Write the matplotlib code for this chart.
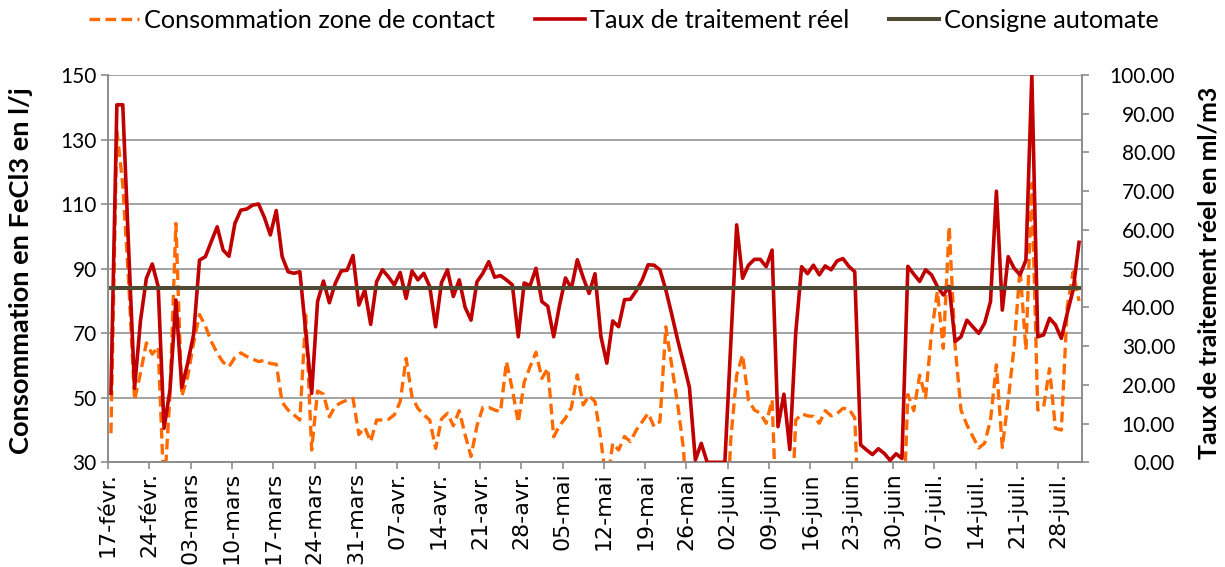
import matplotlib
matplotlib.use("Agg")
import matplotlib.pyplot as plt
import numpy as np

# ---- data (one value per day, from 17-févr. to 31-juil.) ----
tick_labels = ["17-févr.", "24-févr.", "03-mars", "10-mars", "17-mars", "24-mars",
               "31-mars", "07-avr.", "14-avr.", "21-avr.", "28-avr.", "05-mai",
               "12-mai", "19-mai", "26-mai", "02-juin", "09-juin", "16-juin",
               "23-juin", "30-juin", "07-juil.", "14-juil.", "21-juil.", "28-juil."]

consommation = [
    39, 133, 116, 86, 49.3, 57.6, 67, 63.5, 65.8, 20,
    51, 104, 50.5, 56.5, 67, 75.8, 72.2, 67.4, 63.8, 61,
    59.6, 62.5, 63.9, 62.8, 62, 61.2, 61.6, 60.6, 60.4, 48.6,
    46.2, 44.7, 43.1, 75.6, 33.8, 52.1, 51.1, 44.1, 47.4, 48.5,
    49.3, 49.8, 38.6, 40.8, 36.4, 43.1, 43.1, 43.3, 44.7, 48.8,
    62.2, 50.3, 46.7, 44.7, 43.1, 34.3, 43.4, 45.2, 41.3, 46,
    38.5, 31.8, 41.3, 47, 47, 46.2, 45.7, 61.2, 52.5, 42.3,
    54.8, 59.6, 64.1, 56, 59.1, 37.9, 41.4, 43.7, 47, 57.1,
    47.8, 50.6, 48.8, 37, 22, 35.9, 33.8, 38, 36.4, 40,
    42.6, 45.2, 41.1, 42.6, 72, 60, 48, 34, 0, 0,
    0, 0, 0, 0, 0, 37, 57, 63.3, 49.3, 46.2,
    45.2, 42.1, 49.3, 0, 0, 0, 43, 45, 44.4, 44.2,
    42.1, 46, 44.4, 45.1, 46.7, 46.6, 43.8, 0, 0, 0,
    0, 0, 0, 0, 0, 51, 46, 57, 50, 70,
    83, 65.3, 103, 66, 46.2, 41.6, 38, 34.4, 35.9, 43.1,
    60.2, 34.6, 49.3, 65.8, 90, 64.8, 116.4, 46.2, 47.2, 59,
    40.5, 40, 78.2, 89, 80,
]

taux = [
    17.8, 92.3, 92.3, 55, 19.1, 36.5, 47.5, 51.2, 45.4, 8.8,
    18.7, 41.9, 19.3, 25.6, 33, 52.2, 53.1, 57, 60.8, 54.8,
    53.2, 61.7, 65.1, 65.4, 66.4, 66.7, 63.2, 58.7, 65, 53.1,
    49.2, 48.8, 49.2, 33.7, 17.8, 41.5, 46.8, 41.2, 46.2, 49.4,
    49.6, 53.4, 40.6, 44.5, 35.6, 46.6, 49.7, 47.9, 45.8, 49,
    42.3, 49.4, 47.1, 48.8, 45.4, 35, 46.4, 49.7, 42.8, 47.1,
    40, 36.7, 46.6, 48.8, 51.8, 47.8, 48.2, 47.1, 45.8, 32.4,
    46.3, 45.6, 50.1, 41.5, 40.3, 32.4, 40.6, 47.6, 44.9, 52.3,
    47.7, 43.6, 48.7, 32.5, 25.6, 36.5, 35, 42, 42.1, 44.3,
    47.1, 51, 50.9, 49.7, 44.5, 38.2, 31.6, 25.6, 19.3, 0.6,
    4.9, 0, 0, 0, 0, 30.7, 61.3, 47.5, 50.9, 52.4,
    52.4, 50.5, 54.8, 9.2, 17.6, 3.3, 33.3, 50.5, 48.7, 50.9,
    48.4, 50.7, 49.7, 52, 52.6, 50.6, 49.2, 4.5, 3.2, 2,
    3.5, 2.3, 0.5, 2.2, 1, 50.6, 48.6, 46.7, 49.7, 48.4,
    45.4, 43.2, 45.4, 31.2, 32.4, 36.7, 35, 33.3, 35.9, 41.5,
    70, 39.3, 53.1, 50.1, 48.4, 52.2, 100, 32.4, 32.9, 37.2,
    35.5, 32, 38.5, 44.5, 56.8,
]

consigne_value = 45.0
consigne = [consigne_value] * len(taux)

series_names = ["Consommation zone de contact", "Taux de traitement réel", "Consigne automate"]
left_title = "Consommation en FeCl3 en l/j"
right_title = "Taux de traitement réel en ml/m3"

# ---- styling ----
C_ORANGE = "#FF6A00"
C_RED = "#C00000"
C_OLIVE = "#4F4A33"
C_GRID = "#A3A3A3"
C_SPINE = "#8C8C8C"
FONT = "Lato"
W, H = 1225, 567

fig = plt.figure(figsize=(W / 100, H / 100), dpi=100)
ax = fig.add_axes([108 / W, 1 - 462.3 / H, (1082 - 108) / W, (462.3 - 75) / H])
ax2 = ax.twinx()

n = len(taux)
x = np.arange(n) + 0.5

l1, = ax.plot(x, consommation, color=C_ORANGE, lw=2.4, linestyle=(0, (3.2, 1.6)),
              dash_capstyle="butt", solid_joinstyle="round", zorder=3)
l2, = ax2.plot(x, taux, color=C_RED, lw=2.6, solid_joinstyle="round", zorder=3)
l3, = ax2.plot(x, consigne, color=C_OLIVE, lw=2.9, zorder=4)

ax.set_xlim(0, n)
ax.set_ylim(30, 150)
ax2.set_ylim(0, 100)
ax.set_yticks(np.arange(30, 151, 20))
ax2.set_yticks(np.arange(0, 101, 10))
ax2.set_yticklabels([f"{v:.2f}" for v in np.arange(0, 101, 10)])

ax.set_xticks(np.arange(0, 7 * len(tick_labels), 7))
ax.set_xticklabels(tick_labels, rotation=90, fontfamily="DejaVu Sans", fontsize=15)

ax.grid(axis="y", color=C_GRID, lw=1.4)
ax.set_axisbelow(True)
for a in (ax, ax2):
    for s in a.spines.values():
        s.set_color(C_SPINE)
        s.set_linewidth(1.2)
ax.spines["top"].set_visible(False)
ax2.spines["top"].set_visible(False)

ax.tick_params(axis="x", direction="out", length=5, width=1.2, color=C_SPINE, pad=2)
ax.tick_params(axis="y", direction="out", length=5, width=1.2, color=C_SPINE, pad=3,
               labelsize=15)
ax2.tick_params(axis="y", direction="out", length=5, width=1.2, color=C_SPINE, pad=62,
                labelsize=15)
for t in ax.get_yticklabels():
    t.set_fontfamily(FONT)
for t in ax2.get_yticklabels():
    t.set_fontfamily(FONT)
    t.set_horizontalalignment("right")

tl = fig.text(21 / W, 1 - 271 / H, left_title, rotation=90, ha="center", va="center",
              fontfamily=FONT, fontweight="bold", fontsize=16)
tr = fig.text(1209 / W, 1 - 273 / H, right_title, rotation=90, ha="center", va="center",
              fontfamily=FONT, fontweight="bold", fontsize=16)

leg_fs = 16
leg = fig.legend([l1, l2, l3], series_names,
                 loc="center", bbox_to_anchor=(626 / W, 1 - 20 / H), ncol=3, frameon=False,
                 prop={"family": FONT, "size": leg_fs}, handlelength=50 / (leg_fs * 1.389),
                 handletextpad=5 / (leg_fs * 1.389), columnspacing=40 / (leg_fs * 1.389))

# ---- fit text sizes to the reference pixel extents ----
fig.canvas.draw()
r = fig.canvas.get_renderer()


def fit(t, target, use_height=False):
    bb = t.get_window_extent(r)
    cur = bb.height if use_height else bb.width
    t.set_fontsize(t.get_fontsize() * target / cur)


fit(tl, 368, use_height=True)
fit(tr, 374, use_height=True)

# x tick labels: as large as possible while the longest still fits in the canvas
xt = ax.get_xticklabels()
max_h = max(t.get_window_extent(r).height for t in xt)
xfs = xt[0].get_fontsize() * 92 / max_h
for t in xt:
    t.set_fontsize(xfs)

tot = sum(t.get_window_extent(r).width for t in leg.get_texts())
new_fs = leg_fs * (344 + 254 + 231) / tot
leg.remove()
leg = fig.legend([l1, l2, l3], series_names,
                 loc="center", bbox_to_anchor=(624 / W, 1 - 20 / H), ncol=3, frameon=False,
                 prop={"family": FONT, "size": new_fs}, handlelength=50 / (new_fs * 1.389),
                 handletextpad=5 / (new_fs * 1.389), columnspacing=40 / (new_fs * 1.389))

fig.savefig("out.png", dpi=100)
